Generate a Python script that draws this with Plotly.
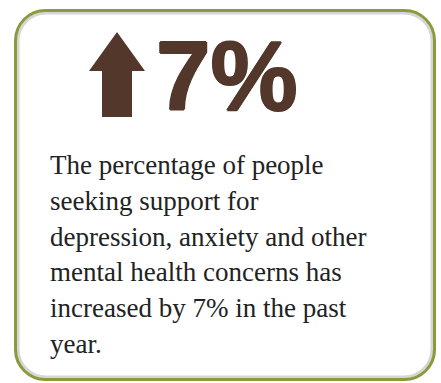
import plotly.graph_objects as go

# ---- data ----
change_pct = 7
headline = f"{change_pct}%"
body_lines = [
    "The percentage of people",
    "seeking support for",
    "depression, anxiety and other",
    "mental health concerns has",
    f"increased by {change_pct}% in the past",
    "year.",
]

W, H = 441, 383
BROWN = "#53372a"
GREEN = "#8c9a3c"


def rrect(x0, y0, x1, y1, r):
    k = 0.5523 * r
    return (f"M {x0+r},{y0} L {x1-r},{y0} "
            f"C {x1-r+k},{y0} {x1},{y0+r-k} {x1},{y0+r} "
            f"L {x1},{y1-r} "
            f"C {x1},{y1-r+k} {x1-r+k},{y1} {x1-r},{y1} "
            f"L {x0+r},{y1} "
            f"C {x0+r-k},{y1} {x0},{y1-r+k} {x0},{y1-r} "
            f"L {x0},{y0+r} "
            f"C {x0},{y0+r-k} {x0+r-k},{y0} {x0+r},{y0} Z")


fig = go.Figure()

shapes = [
    # inner soft shadow
    dict(type="path", path=rrect(18, 13, 432, 377, 28), line=dict(color="#d6d6d6", width=3),
         layer="below"),
    # card border
    dict(type="path", path=rrect(15.5, 10.5, 434.5, 379.5, 30), line=dict(color=GREEN, width=3),
         layer="below"),
    # up arrow
    dict(type="path",
         path="M 117,32 L 145,71 L 132,71 L 132,117 L 102,117 L 102,71 L 89,71 Z",
         fillcolor=BROWN, line=dict(width=0)),
]

heavy = f"1px 0 0 {BROWN}, -1px 0 0 {BROWN}, 0 1px 0 {BROWN}, 0 -1px 0 {BROWN}"
annotations = [
    dict(x=154, y=76, text=f"<b>{headline}</b>", showarrow=False, xanchor="left", yanchor="middle",
         font=dict(family="Liberation Sans", size=98, color=BROWN, shadow=heavy)),
]

pitch = 35.8
for i, line in enumerate(body_lines):
    baseline = 174 + i * pitch
    annotations.append(dict(
        x=48, y=baseline - 9, text=line, showarrow=False, xanchor="left", yanchor="middle",
        font=dict(family="Liberation Serif", size=27, color="#222222")))

fig.update_layout(
    width=W, height=H,
    margin=dict(l=0, r=0, t=0, b=0),
    paper_bgcolor="white", plot_bgcolor="white",
    xaxis=dict(range=[0, W], visible=False, fixedrange=True),
    yaxis=dict(range=[H, 0], visible=False, fixedrange=True),
    shapes=shapes,
    annotations=annotations,
    showlegend=False,
)

fig.write_html("out.html", config={"displayModeBar": False},
               post_script="document.body.style.margin='0px';document.body.style.overflow='hidden';")
